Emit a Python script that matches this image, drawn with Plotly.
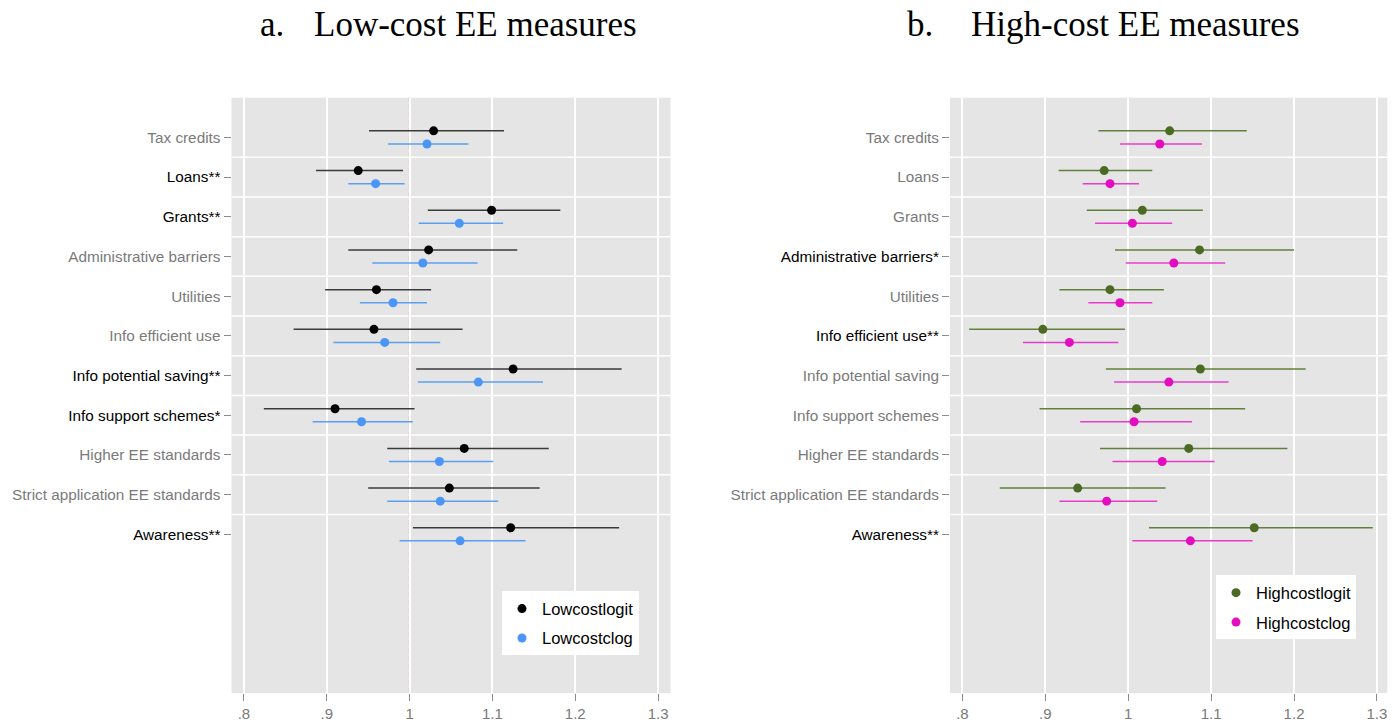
import plotly.graph_objects as go

# ---------------- data ----------------
categories = ["Tax credits", "Loans", "Grants", "Administrative barriers", "Utilities",
              "Info efficient use", "Info potential saving", "Info support schemes",
              "Higher EE standards", "Strict application EE standards", "Awareness"]
low_stars = ["", "**", "**", "", "", "", "**", "*", "", "", "**"]
high_stars = ["", "", "", "*", "", "**", "", "", "", "", "**"]
x_tickvals = [0.8, 0.9, 1.0, 1.1, 1.2, 1.3]
x_ticktext = [".8", ".9", "1", "1.1", "1.2", "1.3"]

lowlogit_pt = [1.029, 0.938, 1.099, 1.023, 0.960, 0.957, 1.125, 0.910, 1.066, 1.048, 1.122]
lowlogit_lo = [0.951, 0.887, 1.022, 0.926, 0.898, 0.860, 1.008, 0.824, 0.973, 0.950, 1.004]
lowlogit_hi = [1.114, 0.992, 1.182, 1.130, 1.026, 1.064, 1.256, 1.006, 1.168, 1.157, 1.253]

lowclog_pt = [1.021, 0.959, 1.060, 1.016, 0.980, 0.970, 1.083, 0.942, 1.036, 1.037, 1.061]
lowclog_lo = [0.974, 0.926, 1.011, 0.955, 0.940, 0.908, 1.010, 0.883, 0.975, 0.973, 0.988]
lowclog_hi = [1.071, 0.994, 1.113, 1.082, 1.021, 1.037, 1.161, 1.004, 1.101, 1.107, 1.140]

highlogit_pt = [1.050, 0.971, 1.017, 1.086, 0.978, 0.897, 1.087, 1.010, 1.073, 0.939, 1.152]
highlogit_lo = [0.964, 0.916, 0.950, 0.984, 0.917, 0.808, 0.973, 0.893, 0.966, 0.845, 1.025]
highlogit_hi = [1.143, 1.029, 1.090, 1.200, 1.043, 0.996, 1.214, 1.141, 1.192, 1.045, 1.295]

highclog_pt = [1.038, 0.978, 1.005, 1.055, 0.990, 0.929, 1.049, 1.007, 1.041, 0.974, 1.075]
highclog_lo = [0.990, 0.945, 0.960, 0.997, 0.952, 0.873, 0.983, 0.942, 0.981, 0.917, 1.005]
highclog_hi = [1.089, 1.013, 1.053, 1.117, 1.029, 0.988, 1.121, 1.077, 1.104, 1.035, 1.150]

# ---------------- styling ----------------
W, H = 1397, 722
FONT = "Liberation Sans, Arial, Helvetica, sans-serif"
GRAY_TXT = "#7a7a7a"
n = len(categories)
idx = list(range(n))
off = 0.165


def ticklabels(stars):
    out = []
    for c, s in zip(categories, stars):
        if s:
            out.append(f"<span style='color:#000000'>{c}{s}</span>")
        else:
            out.append(c)
    return out


def err_trace(name, pt, lo, hi, dy, mcol, lcol, xa, ya, legend):
    return go.Scatter(
        x=pt, y=[i + dy for i in idx], mode="markers", name=name,
        xaxis=xa, yaxis=ya, legend=legend, legendgroup=name,
        marker=dict(color=mcol, size=9),
        error_x=dict(type="data", symmetric=False,
                     array=[h - p for h, p in zip(hi, pt)],
                     arrayminus=[p - l for p, l in zip(pt, lo)],
                     width=0, thickness=1.5, color=lcol),
    )


fig = go.Figure()
fig.add_trace(err_trace("Lowcostlogit", lowlogit_pt, lowlogit_lo, lowlogit_hi, -off,
                        "#000000", "#3a3a3a", "x", "y", "legend"))
fig.add_trace(err_trace("Lowcostclog", lowclog_pt, lowclog_lo, lowclog_hi, off,
                        "#4a95f5", "#5b9ff2", "x", "y", "legend"))
fig.add_trace(err_trace("Highcostlogit", highlogit_pt, highlogit_lo, highlogit_hi, -off,
                        "#4b6a24", "#62803c", "x2", "y2", "legend2"))
fig.add_trace(err_trace("Highcostclog", highclog_pt, highclog_lo, highclog_hi, off,
                        "#e40cbf", "#ea3ccb", "x2", "y2", "legend2"))

xdom1 = [231.5 / W, 670.5 / W]
xdom2 = [950 / W, 1387.3 / W]
ydom = [1 - 695 / H, 1 - 98 / H]

xcommon = dict(tickvals=x_tickvals, ticktext=x_ticktext, showgrid=True, gridcolor="#ffffff",
               gridwidth=1.5, zeroline=False, showline=False, ticks="outside", ticklen=7,
               tickwidth=1.2, tickcolor="#8a8a8a", tickfont=dict(size=15, color=GRAY_TXT, family=FONT))
ycommon = dict(tickvals=idx, range=[14, -1], showgrid=False, zeroline=False, showline=False,
               ticks="outside", ticklen=7, tickwidth=1.2, tickcolor="#8a8a8a",
               tickfont=dict(size=15.3, color=GRAY_TXT, family=FONT))

legcommon = dict(xanchor="left", yanchor="top", bgcolor="#ffffff", borderwidth=0,
                 font=dict(size=16.5, color="#000", family=FONT), itemwidth=30,
                 traceorder="grouped", tracegroupgap=5)

fig.update_layout(
    width=W, height=H, margin=dict(l=0, r=0, t=0, b=0),
    paper_bgcolor="#ffffff", plot_bgcolor="#e5e5e5",
    font=dict(family=FONT),
    xaxis=dict(domain=xdom1, range=[0.785, 1.315], anchor="y", **xcommon),
    yaxis=dict(domain=ydom, anchor="x", ticktext=ticklabels(low_stars), **ycommon),
    xaxis2=dict(domain=xdom2, range=[0.785, 1.3125], anchor="y2", **xcommon),
    yaxis2=dict(domain=ydom, anchor="x2", ticktext=ticklabels(high_stars), **ycommon),
    legend=dict(x=502 / W, y=1 - 593 / H, **legcommon),
    legend2=dict(x=1216 / W, y=1 - 577 / H, **legcommon),
    showlegend=True,
)

# horizontal separators between categories and the reference line at 1
for xa, ya in [("x", "y"), ("x2", "y2")]:
    dom = xa + " domain"
    for i in range(n - 1):
        fig.add_shape(type="line", xref=dom, yref=ya, x0=0, x1=1, y0=i + 0.5, y1=i + 0.5,
                      line=dict(color="#ffffff", width=1.5), layer="below")
    fig.add_shape(type="line", xref=xa, yref=ya + " domain", x0=1, x1=1, y0=0, y1=1,
                  line=dict(color="#f4a094", width=1.6, dash="5px,3px"), layer="below")

# titles
TFONT = dict(family="Liberation Serif, Times New Roman, serif", size=35, color="#000")
for xpx, txt in [(258, "a."), (312, "Low-cost EE measures"), (905, "b."), (969, "High-cost EE measures")]:
    fig.add_annotation(x=xpx / W, y=1 - 25 / H, xref="paper", yref="paper", text=txt,
                       showarrow=False, xanchor="left", yanchor="middle", font=TFONT)

fig.write_html("out.html", config={"displayModeBar": False},
               post_script="document.body.style.margin='0';document.body.style.overflow='hidden';")
